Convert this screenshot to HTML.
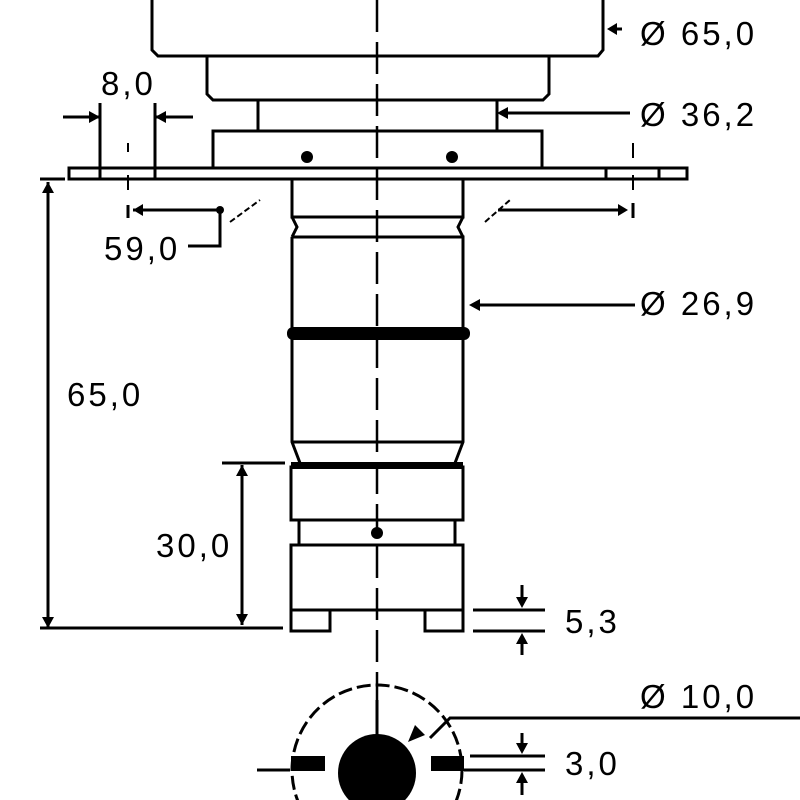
<!DOCTYPE html>
<html><head><style>html,body{margin:0;background:#fff;overflow:hidden;width:800px;height:800px}svg{display:block}text{font-family:"Liberation Sans",sans-serif;font-size:33px;letter-spacing:3px;fill:#000}</style></head><body>
<svg width="800" height="800" viewBox="0 0 800 800" xmlns="http://www.w3.org/2000/svg">
<g fill="none" stroke="#000" stroke-width="3">
<path d="M152 0 V50 L158 56 H598 L603 50 V0"/>
<path d="M207 56 V94 L213 100 H543 L549 94 V56"/>
<path d="M258 100 V131 M497 100 V131"/>
<path d="M213 168 V131 H542 V168"/>
<rect x="69" y="168" width="618" height="11"/>
<path d="M100 103 V179 M155 103 V179 M606 168 V179 M659 168 V179"/>
<path d="M292 179 V217 H463 V179"/>
<path d="M292 217 L297 227 L292 237 M463 217 L458 227 L463 237"/>
<path d="M292 237 H463 V442 L455 463 M292 237 V442 L300 463"/>
<path d="M292 442 H463"/>
<rect x="291" y="467" width="172" height="53"/>
<rect x="299" y="520" width="156" height="25"/>
<rect x="291" y="545" width="172" height="65"/>
<rect x="291" y="610" width="39" height="21"/>
<rect x="425" y="610" width="38" height="21"/>
<path d="M63 117 H100 M155 117 H193"/>
<path d="M40 179 H65 M40 628 H283 M48 182 V628 M222 463 H285 M242 465 V625"/>
<path d="M128 205 V218 M133 210 H220 V246 H188 M633 203 V218 M498 210 H625"/>
<path d="M473 610 H545 M473 631 H545 M522 585 V605 M522 636 V655"/>
<path d="M470 756 H545 M470 770 H545 M522 733 V750 M522 776 V795"/>
<path d="M505 113 H630 M478 305 H635 M612 29 H622"/>
<path d="M430 738 L450 718 H800"/>
<circle cx="377" cy="770" r="85" stroke-dasharray="14 5"/>
<path d="M257 770 H290 M464 770 H490 M377 700 V735"/>
<path d="M377 0 V800" stroke-dasharray="32 10" stroke-width="2.5"/>
<path d="M128 143 V152 M128 175 V190 M633 143 V158 M633 175 V190" stroke-width="2"/>
<path d="M230 222 L260 200 M485 222 L510 200" stroke-width="2" stroke-dasharray="6 3"/>
</g>
<g fill="#000">
<rect x="287" y="327" width="183" height="13" rx="6"/>
<rect x="291" y="462" width="172" height="7"/>
<circle cx="307" cy="157" r="6"/><circle cx="452" cy="157" r="6"/><circle cx="377" cy="533" r="6"/><circle cx="220" cy="210" r="4"/>
<circle cx="377" cy="773" r="39"/>
<rect x="291" y="756" width="34" height="15"/><rect x="431" y="756" width="33" height="15"/>
<path d="M100 117 L89 111 V123Z M155 117 L166 111 V123Z M133 210 L143 204 V216Z M628 210 L618 204 V216Z M48 182 L42 193 H54Z M48 628 L42 617 H54Z M242 465 L236 476 H248Z M242 625 L236 614 H248Z M522 608 L516 597 H528Z M522 633 L516 644 H528Z M522 754 L516 743 H528Z M522 772 L516 783 H528Z M497 113 L508 107 V119Z M469 305 L480 299 V311Z M607 29 L617 23 V35Z M408 742 L425 735 L415 725Z"/>
</g>
<text x="640" y="45">Ø 65,0</text>
<text x="640" y="126">Ø 36,2</text>
<text x="640" y="315">Ø 26,9</text>
<text x="640" y="708">Ø 10,0</text>
<text x="565" y="633">5,3</text>
<text x="565" y="775">3,0</text>
<text x="67" y="406">65,0</text>
<text x="156" y="557">30,0</text>
<text x="101" y="95">8,0</text>
<text x="104" y="260">59,0</text>
</svg>
</body></html>
